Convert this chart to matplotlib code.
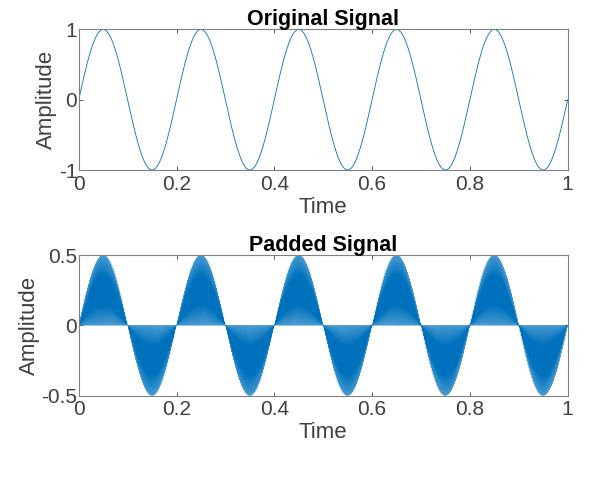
import numpy as np
import matplotlib.pyplot as plt

plt.rcParams['font.family'] = ['Liberation Sans', 'DejaVu Sans']

# signal: 5 cycles over 1 s, peak 1, padded peak 0.5
freq_hz = 5
amp_orig = 1.0
amp_pad = 0.5
n_samples = 1000
n_pad = 500
t = np.linspace(0, 1, n_samples)
orig = amp_orig * np.sin(2 * np.pi * freq_hz * t)

# padded: samples interleaved with zeros
t_pad = np.linspace(0, 1, 2 * n_pad)
pad = np.zeros(2 * n_pad)
pad[::2] = amp_pad * np.sin(2 * np.pi * freq_hz * t_pad[::2])

x_ticks = [0, 0.2, 0.4, 0.6, 0.8, 1]
x_ticklabels = ['0', '0.2', '0.4', '0.6', '0.8', '1']

blue = '#0072BD'
fig = plt.figure(figsize=(6.15, 4.83), dpi=100)
ax1 = fig.add_axes([0.128, 0.648, 0.795, 0.291])
ax2 = fig.add_axes([0.128, 0.181, 0.795, 0.291])


def style(ax, title, yticks, yticklabels):
    ax.set_title(title, fontsize=15.5, fontweight='bold', pad=3)
    ax.set_xlabel('Time', fontsize=16, color='#404040', labelpad=2)
    ax.set_ylabel('Amplitude', fontsize=16, color='#404040', labelpad=1)
    ax.set_xlim(0, 1)
    ax.set_xticks(x_ticks)
    ax.set_xticklabels(x_ticklabels)
    ax.set_yticks(yticks)
    ax.set_yticklabels(yticklabels)
    ax.tick_params(direction='in', length=3, width=0.6, labelsize=15,
                   colors='#404040', top=True, right=True)
    ax.tick_params(axis='x', pad=3.5)
    ax.tick_params(axis='y', pad=1)
    for s in ax.spines.values():
        s.set_color('#808080')
        s.set_linewidth(0.8)


ax1.plot(t, orig, color=blue, linewidth=0.6)
ax1.set_ylim(-1, 1)
style(ax1, 'Original Signal', [-1, 0, 1], ['-1', '0', '1'])

ax2.plot(t_pad, pad, color=blue, linewidth=0.5)
ax2.set_ylim(-0.5, 0.5)
style(ax2, 'Padded Signal', [-0.5, 0, 0.5], ['-0.5', '0', '0.5'])

fig.savefig('out.png', dpi=100)
